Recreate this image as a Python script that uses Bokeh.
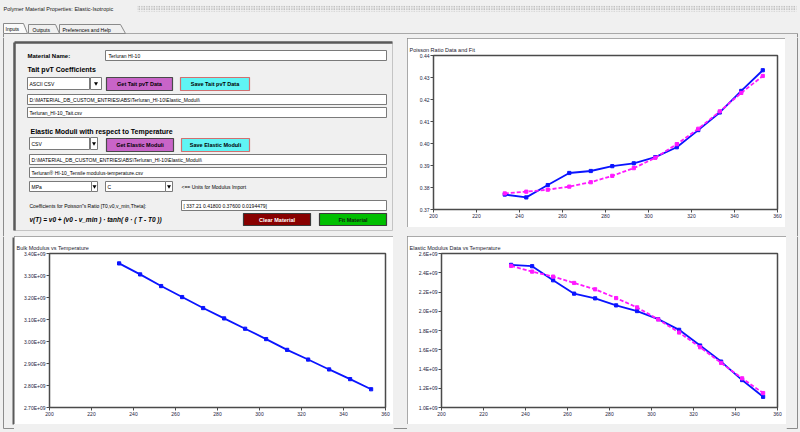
from bokeh.plotting import figure
from bokeh.layouts import column, row
from bokeh.models import Range1d, FixedTicker, Spacer, Title
from bokeh.core.properties import value
from bokeh.embed import file_html
from bokeh.resources import INLINE

# ---------------- data ----------------
TEMPS_K = [233.15, 243.15, 253.15, 263.15, 273.15, 283.15, 293.15,
           303.15, 313.15, 323.15, 333.15, 343.15, 353.15]
POISSON_DATA = [0.3768, 0.3755, 0.3811, 0.3866, 0.3875, 0.3897, 0.3910,
                0.3938, 0.3983, 0.4061, 0.4141, 0.4239, 0.4333]
POISSON_FIT = [0.3773, 0.3781, 0.3790, 0.3804, 0.3824, 0.3853, 0.3888,
               0.3935, 0.3997, 0.4067, 0.4146, 0.4230, 0.4307]
BULK_MODULUS = [3.355e9, 3.305e9, 3.252e9, 3.202e9, 3.152e9, 3.105e9, 3.058e9,
                3.011e9, 2.962e9, 2.918e9, 2.873e9, 2.829e9, 2.783e9]
E_DATA = [2.482e9, 2.468e9, 2.322e9, 2.183e9, 2.134e9, 2.061e9, 2.002e9,
          1.918e9, 1.807e9, 1.644e9, 1.477e9, 1.285e9, 1.111e9]
E_FIT = [2.471e9, 2.412e9, 2.360e9, 2.294e9, 2.228e9, 2.137e9, 2.040e9,
         1.915e9, 1.779e9, 1.626e9, 1.463e9, 1.303e9, 1.150e9]

X_TICKS = [200, 220, 240, 260, 280, 300, 320, 340, 360]
X_LABELS = ["200", "220", "240", "260", "280", "300", "320", "340", "360"]
POISSON_TICKS = [0.37, 0.38, 0.39, 0.40, 0.41, 0.42, 0.43, 0.44]
POISSON_LABELS = ["0.37", "0.38", "0.39", "0.40", "0.41", "0.42", "0.43", "0.44"]
BULK_TICKS = [2.7e9, 2.8e9, 2.9e9, 3.0e9, 3.1e9, 3.2e9, 3.3e9, 3.4e9]
BULK_LABELS = ["2.70E+09", "2.80E+09", "2.90E+09", "3.00E+09",
               "3.10E+09", "3.20E+09", "3.30E+09", "3.40E+09"]
E_TICKS = [1.0e9, 1.2e9, 1.4e9, 1.6e9, 1.8e9, 2.0e9, 2.2e9, 2.4e9, 2.6e9]
E_LABELS = ["1.0E+09", "1.2E+09", "1.4E+09", "1.6E+09", "1.8E+09",
            "2.0E+09", "2.2E+09", "2.4E+09", "2.6E+09"]

WINDOW_TITLE = "Polymer Material Properties: Elastic-Isotropic"
TABS = ["Inputs", "Outputs", "Preferences and Help"]
MATERIAL = "Terluran HI-10"
PATH = "D:\\MATERIAL_DB_CUSTOM_ENTRIES\\ABS\\Terluran_HI-10\\Elastic_Moduli\\"

FONT = "Liberation Sans"
GREY = "#f0f0f0"
BLUE = "#0a14ff"
MAGENTA = "#ff19ff"
FRAME = "#4a4a4a"
LABEL_COLOR = "#1c1c3c"
EDGE = "#8c8c8c"


def gui_fig(w, h):
    p = figure(width=w, height=h, x_range=Range1d(0, w), y_range=Range1d(h, 0),
               output_backend="svg", toolbar_location=None, min_border=0,
               x_axis_type=None, y_axis_type=None)
    p.outline_line_color = None
    p.background_fill_color = GREY
    p.border_fill_color = GREY
    return p


class Painter:
    def __init__(self, p, ox, oy):
        self.p, self.ox, self.oy = p, ox, oy

    def box(self, l, t, r, b, fill="white", line="#7a7a7a", lw=1):
        self.p.quad(left=[l - self.ox], right=[r - self.ox], top=[t - self.oy],
                    bottom=[b - self.oy], fill_color=fill, line_color=line, line_width=lw)

    def seg(self, x0, y0, x1, y1, color, lw=1):
        self.p.segment(x0=[x0 - self.ox], y0=[y0 - self.oy], x1=[x1 - self.ox],
                       y1=[y1 - self.oy], line_color=color, line_width=lw)

    def poly(self, xs, ys, fill, line):
        self.p.patch(x=[x - self.ox for x in xs], y=[y - self.oy for y in ys],
                     fill_color=fill, line_color=line)

    def txt(self, x, y, s, size="5.5px", style="normal", color="#000000", align="left"):
        self.p.text(x=[x - self.ox], y=[y - self.oy], text=[s], text_font=value(FONT),
                    text_font_size=value(size), text_font_style=style, text_color=color,
                    text_align=align, text_baseline="middle")

    def combo(self, l, t, r, b, dl, dr, s):
        self.box(l, t, r, b)
        self.box(dl, t, dr, b)
        self.txt(l + 2, (t + b) / 2, s, size="5px")
        self.p.scatter(x=[(dl + dr) / 2 - self.ox], y=[(t + b) / 2 - self.oy],
                       marker="inverted_triangle", size=4, fill_color="#000000",
                       line_color=None)

    def button(self, l, t, r, b, fill, line, s, color="#000000"):
        self.box(l, t, r, b, fill=fill, line=line, lw=1.2)
        self.txt((l + r) / 2, (t + b) / 2, s, size="5.5px", style="bold",
                 color=color, align="center")


# ---------------- header (window title + tabs), page y 0..37 ----------------
header = gui_fig(800, 37)
H = Painter(header, 0, 0)
H.txt(3, 8, WINDOW_TITLE, size="5.5px", color="#202020")
header.quad(left=[137], right=[796], top=[5], bottom=[11], fill_alpha=0, line_color=None,
            hatch_pattern="dot", hatch_color="#8c8c8c", hatch_scale=2.5, hatch_weight=1)
H.seg(27, 33, 797, 33, "#a8a8a8")
H.seg(3, 33, 3, 37, EDGE)
H.seg(797, 33, 797, 37, EDGE)
H.poly([3, 3, 23, 27], [33, 23, 23, 33], "#fafafa", "#8a8a8a")
H.poly([28, 28, 55, 59], [33, 24, 24, 33], GREY, "#8a8a8a")
H.poly([59, 59, 120, 125], [33, 24, 24, 33], GREY, "#8a8a8a")
H.txt(5, 28.5, TABS[0], size="5px")
H.txt(32, 29, TABS[1], size="5px")
H.txt(62, 29, TABS[2], size="5px")

# ---------------- input panel, page x 0..407, y 37..236 ----------------
inp = gui_fig(407, 199)
P = Painter(inp, 0, 37)
P.seg(3, 37, 3, 236, EDGE)
P.box(14, 42, 392, 230, fill=GREY, line="#c4c4c4")
P.seg(14, 42, 392, 42, "#5a5a5a", 2.5)
P.seg(14, 42, 14, 230, "#5a5a5a", 2.5)

P.txt(27, 55, "Material Name:", size="6px", style="bold")
P.box(105, 50, 386, 60)
P.txt(108, 55, MATERIAL, size="5px")

P.txt(27, 69, "Tait pvT Coefficients", size="7px", style="bold")
P.combo(27, 77, 89, 89, 90, 101, "ASCII CSV")
P.button(106, 77, 172, 90, "#c864c8", "#4a4a4a", "Get Tait pvT Data")
P.button(180, 77, 249, 90, "#60f4f4", "#d07070", "Save Tait pvT Data")
P.box(27, 94, 386, 104)
P.txt(29, 99, PATH, size="5px")
P.box(27, 107, 386, 117)
P.txt(29, 112, "Terluran_HI-10_Tait.csv", size="5px")

P.txt(30, 131, "Elastic Moduli with respect to Temperature", size="7px", style="bold")
P.combo(29, 137, 89, 149, 90, 97, "CSV")
P.button(106, 138, 173, 151, "#c864c8", "#4a4a4a", "Get Elastic Moduli")
P.button(181, 138, 249, 151, "#60f4f4", "#d07070", "Save Elastic Moduli")
P.box(29, 154, 386, 164)
P.txt(31, 159, PATH, size="5px")
P.box(29, 167, 386, 177)
P.txt(31, 172, "Terluran\u00ae HI-10_Tensile modulus-temperature.csv", size="5px")
P.combo(29, 181, 91, 191, 91, 97, "MPa")
P.combo(105, 181, 165, 191, 165, 172, "C")
P.txt(181, 186, "<== Units for Modulus Import", size="5px")
P.txt(29, 205, "Coefficients for Poisson\"s Ratio [T0,v0,v_min,Theta]:", size="5px")
P.box(181, 200, 386, 210)
P.txt(183, 205, "[ 337.21  0.41800  0.37600  0.0194479]", size="5px")
P.txt(29, 219, "v(T) = v0 + (v0 - v_min ) \u00b7 tanh( \u03b8 \u00b7 ( T - T0 ))",
      size="6.5px", style="bold italic")
P.button(243, 213, 310, 225, "#880000", "#3a3a3a", "Clear Material", color="#ffffff")
P.button(319, 213, 386, 225, "#00bf00", "#3a3a3a", "Fit Material", color="#102010")


# ---------------- charts ----------------
def chart(w, h, ml, mr, mt, mb, title, yticks, ylabels):
    p = figure(width=w, height=h, output_backend="svg", toolbar_location=None,
               title_location=None,
               x_range=Range1d(X_TICKS[0], X_TICKS[-1]),
               y_range=Range1d(yticks[0], yticks[-1]),
               min_border_left=ml, min_border_right=mr,
               min_border_top=mt, min_border_bottom=mb,
               styles={"outline": "1px solid #8c8c8c", "outline-offset": "-1px"})
    p.background_fill_color = "white"
    p.border_fill_color = "white"
    p.outline_line_color = FRAME
    p.outline_line_width = 1.5
    p.grid.visible = False
    # the real title, then an invisible spacer title
    p.add_layout(Title(text=title, text_font=FONT, text_font_size="5.5px",
                       text_font_style="normal", text_color="#1a1a30", align="left",
                       vertical_align="top", offset=-(ml - 2), standoff=2), "above")
    p.add_layout(Title(text=".", text_font_size="3px", text_alpha=0, standoff=0.2), "above")
    for ax in (p.xaxis[0], p.yaxis[0]):
        ax.axis_line_color = None
        ax.major_tick_line_color = FRAME
        ax.major_tick_in = 0
        ax.major_tick_out = 3
        ax.minor_tick_line_color = None
        ax.major_label_text_font = FONT
        ax.major_label_text_font_size = "5px"
        ax.major_label_text_color = LABEL_COLOR
        ax.major_label_standoff = 1
    p.xaxis.ticker = FixedTicker(ticks=X_TICKS)
    p.xaxis.major_label_overrides = dict(zip(X_TICKS, X_LABELS))
    p.yaxis.ticker = FixedTicker(ticks=yticks)
    p.yaxis.major_label_overrides = dict(zip(yticks, ylabels))
    return p


def series(p, ys, color, dash="solid"):
    p.line(TEMPS_K, ys, line_color=color, line_width=1.8, line_dash=dash)
    p.scatter(TEMPS_K, ys, marker="square", size=3.2, fill_color=color, line_color=color)


poisson = chart(378, 189, 26, 8, 17, 18, "Poisson Ratio Data and Fit",
                POISSON_TICKS, POISSON_LABELS)
series(poisson, POISSON_DATA, BLUE)
series(poisson, POISSON_FIT, MAGENTA, "4 2")

bulk = chart(379, 188, 35, 8, 17, 17, "Bulk Modulus vs Temperature",
             BULK_TICKS, BULK_LABELS)
series(bulk, BULK_MODULUS, BLUE)

elastic = chart(379, 188, 34, 9, 17, 17, "Elastic Modulus Data vs Temperature",
                E_TICKS, E_LABELS)
series(elastic, E_DATA, BLUE)
series(elastic, E_FIT, MAGENTA, "4 2")


def sp(w, h):
    return Spacer(width=w, height=h, styles={"background-color": GREY})


# right strip of top row, page x 785..800, y 37..236
rstrip = gui_fig(15, 199)
Painter(rstrip, 785, 37).seg(797, 37, 797, 236, EDGE)

# bottom row strips, page y 236..432
lstrip_b = gui_fig(14, 196)
L = Painter(lstrip_b, 0, 236)
L.seg(3, 236, 3, 428, EDGE)
L.seg(3, 428, 14, 428, EDGE)
L.seg(13, 237, 13, 424, "#5a5a5a", 2)

mstrip_b = gui_fig(14, 196)
Painter(mstrip_b, 393, 236).seg(393, 428, 407, 428, EDGE)

rstrip_b = gui_fig(14, 196)
R = Painter(rstrip_b, 786, 236)
R.seg(797, 236, 797, 428, EDGE)
R.seg(786, 428, 797, 428, EDGE)

under_bulk = gui_fig(379, 8)
Painter(under_bulk, 14, 424).seg(14, 428, 393, 428, EDGE)
under_el = gui_fig(379, 8)
Painter(under_el, 407, 424).seg(407, 428, 786, 428, EDGE)

top_row = row(inp, column(sp(378, 1), poisson, sp(378, 9)), rstrip)
bottom_row = row(lstrip_b, column(bulk, under_bulk), mstrip_b,
                 column(elastic, under_el), rstrip_b)
layout = column(header, top_row, bottom_row, styles={"background-color": GREY})

open("out.html", "w").write(file_html(layout, INLINE))
